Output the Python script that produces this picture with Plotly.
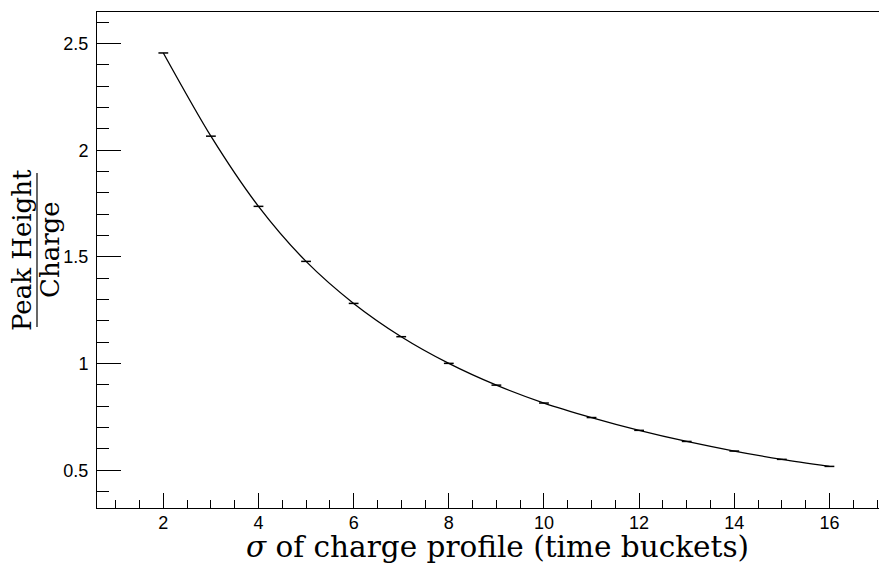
import plotly.graph_objects as go

sigma = [2, 3, 4, 5, 6, 7, 8, 9, 10, 11, 12, 13, 14, 15, 16]
ratio = [2.456, 2.066, 1.737, 1.479, 1.282, 1.126, 1.001, 0.899, 0.815, 0.747,
         0.687, 0.635, 0.590, 0.551, 0.518]

x_title = "<i>σ</i> of charge profile (time buckets)"
y_num = "Peak Height"
y_den = "Charge"

OFF = 8  # page body margin
W, H = 887 - OFF, 564 - OFF
L, T, B, R = 97 - OFF, 12 - OFF, 56, 0
pw, ph = W - L - R, H - T - B

fig = go.Figure()
fig.add_trace(go.Scatter(
    x=sigma, y=ratio, mode="lines", line=dict(color="black", width=1.3, shape="spline", smoothing=0.8),
    hoverinfo="skip", showlegend=False))
fig.add_trace(go.Scatter(
    x=sigma, y=ratio, mode="markers",
    marker=dict(symbol="line-ew", size=7, line=dict(color="black", width=1.5)),
    showlegend=False))

tickfont = dict(family="Liberation Sans, Arial, sans-serif", size=18, color="black")
fig.update_layout(
    width=W, height=H,
    margin=dict(l=L, r=R, t=T, b=B, pad=0),
    paper_bgcolor="white", plot_bgcolor="white",
    xaxis=dict(range=[0.606, 17.21], showgrid=False, zeroline=False,
               showline=True, linecolor="black", linewidth=1, mirror=True,
               ticks="inside", ticklen=15, tickwidth=1, tickcolor="black",
               tick0=0, dtick=2, tickfont=tickfont, ticklabelstandoff=-2,
               minor=dict(ticks="inside", ticklen=8, tickwidth=1, tickcolor="black",
                          dtick=0.5, tick0=0, showgrid=False)),
    yaxis=dict(range=[0.323, 2.648], showgrid=False, zeroline=False,
               showline=True, linecolor="black", linewidth=1,
               ticks="inside", ticklen=24, tickwidth=1, tickcolor="black",
               tick0=0, dtick=0.5, tickfont=tickfont, ticklabelstandoff=4,
               minor=dict(ticks="inside", ticklen=12, tickwidth=1, tickcolor="black",
                          dtick=0.1, tick0=0, showgrid=False)),
)

def px(xw):
    return (xw - OFF - L) / pw

def py(yw):
    return (H - B - (yw - OFF)) / ph

serif = "DejaVu Serif, Liberation Serif, serif"
fig.add_annotation(text=x_title, xref="paper", yref="paper", x=px(497), y=py(547),
                   xanchor="center", yanchor="middle", showarrow=False,
                   font=dict(family=serif, size=29.5, color="black"))
fig.add_annotation(text=y_num, xref="paper", yref="paper", x=px(22), y=py(250),
                   xanchor="center", yanchor="middle", showarrow=False, textangle=-90,
                   font=dict(family=serif, size=26, color="black"))
fig.add_annotation(text=y_den, xref="paper", yref="paper", x=px(50), y=py(250),
                   xanchor="center", yanchor="middle", showarrow=False, textangle=-90,
                   font=dict(family=serif, size=26, color="black"))
fig.add_shape(type="line", xref="paper", yref="paper", x0=px(37), x1=px(37),
              y0=py(327), y1=py(173), line=dict(color="black", width=1.2))

fig.write_html("out.html")
